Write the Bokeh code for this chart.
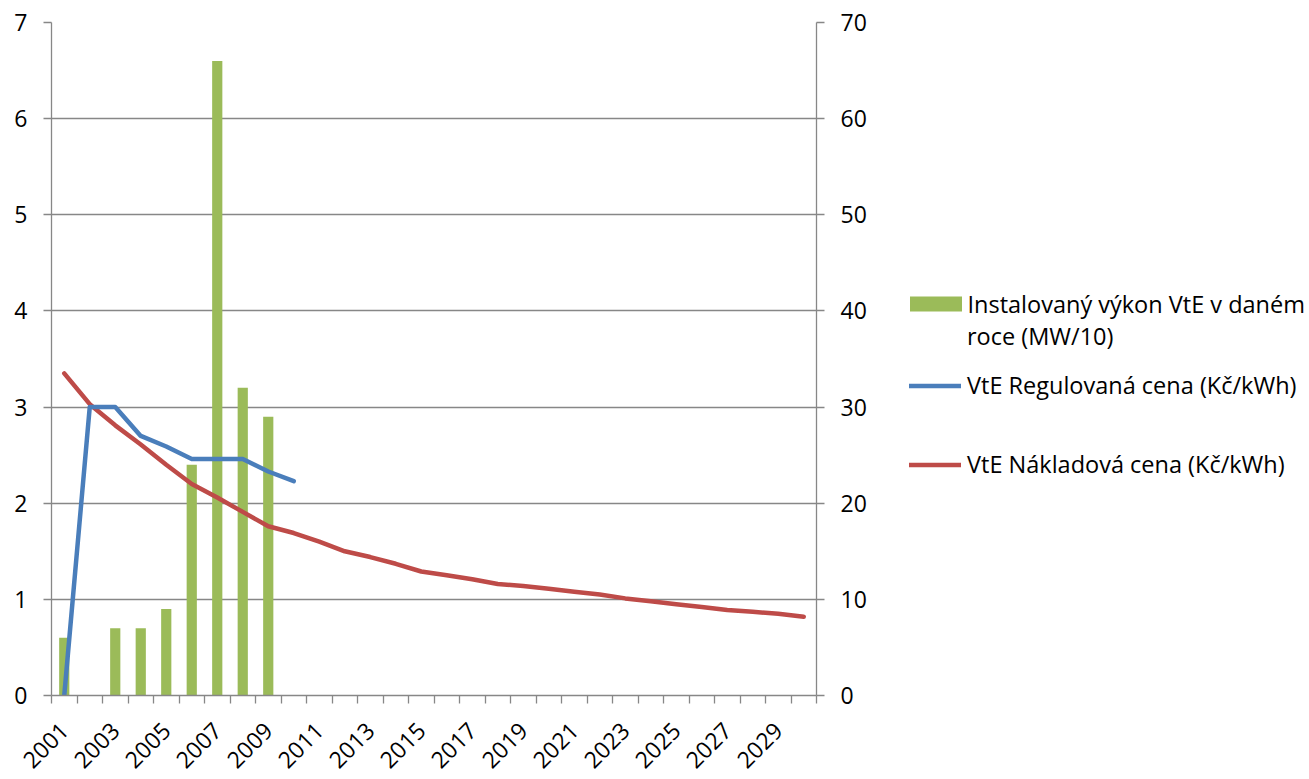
from math import pi
from bokeh.plotting import figure
from bokeh.layouts import row
from bokeh.models import Range1d, LinearAxis, FixedTicker, Legend, LegendItem
from bokeh.embed import file_html
from bokeh.resources import INLINE

# ---- data ----
years = list(range(2001, 2031))
bar_years = [2001, 2002, 2003, 2004, 2005, 2006, 2007, 2008, 2009]
installed_mw10 = [0.6, 0.0, 0.7, 0.7, 0.9, 2.4, 6.6, 3.2, 2.9]
reg_years = list(range(2001, 2011))
reg_price = [0.0, 3.0, 3.0, 2.70, 2.59, 2.46, 2.46, 2.46, 2.33, 2.23]
cost_price = [3.35, 3.03, 2.81, 2.61, 2.40, 2.20, 2.06, 1.91, 1.76, 1.69,
              1.60, 1.50, 1.44, 1.37, 1.29, 1.25, 1.21, 1.16, 1.14, 1.11,
              1.08, 1.05, 1.01, 0.98, 0.95, 0.92, 0.89, 0.87, 0.85, 0.82]
label_years = years[::2]
left_ticks = [0, 1, 2, 3, 4, 5, 6, 7]
right_ticks = [0, 10, 20, 30, 40, 50, 60, 70]
names = ["Instalovaný výkon VtE v daném",
         "roce (MW/10)",
         "VtE Regulovaná cena (Kč/kWh)",
         "VtE Nákladová cena (Kč/kWh)"]

FONT = "Open Sans"
FS = "23px"
LFS = "23.5px"
GRAY = "#878787"
GREEN = "#9BBB59"
BLUE = "#4A7EBB"
RED = "#BE4B48"

p = figure(width=880, height=779, output_backend="svg", toolbar_location=None,
           x_range=Range1d(years[0] - 0.5, years[-1] + 0.5),
           y_range=Range1d(left_ticks[0], left_ticks[-1]),
           min_border_left=51, min_border_right=64, min_border_top=22,
           min_border_bottom=84)
p.outline_line_color = None
p.background_fill_color = "white"
p.border_fill_color = "white"

p.extra_y_ranges = {"right": Range1d(right_ticks[0], right_ticks[-1])}

# x axis
xa = p.xaxis[0]
xa.ticker = FixedTicker(ticks=label_years,
                        minor_ticks=[y - 0.5 for y in years] + [years[-1] + 0.5])
xa.major_label_overrides = {y: str(y) for y in label_years}
xa.major_tick_line_color = None
xa.minor_tick_in = 0
xa.minor_tick_out = 8
xa.minor_tick_line_color = GRAY
xa.minor_tick_line_width = 1.3
xa.axis_line_color = GRAY
xa.axis_line_width = 1.3
xa.major_label_orientation = pi / 4
xa.major_label_standoff = 23
xa.major_label_text_font = FONT
xa.major_label_text_font_size = FS
xa.major_label_text_line_height = 0.3
xa.major_label_text_color = "black"

# left axis
ya = p.yaxis[0]
ya.ticker = FixedTicker(ticks=left_ticks)
ya.major_tick_in = 0
ya.major_tick_out = 8
ya.minor_tick_line_color = None
ya.major_tick_line_color = GRAY
ya.major_tick_line_width = 1.3
ya.axis_line_color = GRAY
ya.axis_line_width = 1.3
ya.major_label_standoff = 16
ya.major_label_text_font = FONT
ya.major_label_text_font_size = FS
ya.major_label_text_color = "black"

# right axis
ra = LinearAxis(y_range_name="right", ticker=FixedTicker(ticks=right_ticks))
ra.major_tick_in = 0
ra.major_tick_out = 8
ra.minor_tick_line_color = None
ra.major_tick_line_color = GRAY
ra.major_tick_line_width = 1.3
ra.axis_line_color = GRAY
ra.axis_line_width = 1.3
ra.major_label_standoff = 16
ra.major_label_text_font = FONT
ra.major_label_text_font_size = FS
ra.major_label_text_color = "black"
p.add_layout(ra, "right")

p.xgrid.grid_line_color = None
p.ygrid.ticker = FixedTicker(ticks=left_ticks)
p.ygrid.grid_line_color = GRAY
p.ygrid.grid_line_width = 1.3

# glyphs
r_bar = p.vbar(x=bar_years, top=installed_mw10, width=0.4, bottom=0,
               fill_color=GREEN, line_color=None)
r_cost = p.line(years, cost_price, line_color=RED, line_width=4.5,
                line_join="round", line_cap="round")
r_reg = p.line(reg_years, reg_price, line_color=BLUE, line_width=4.5,
               line_join="round", line_cap="round")

# legend panel (separate figure so the legend is not clipped)
q = figure(width=429, height=779, output_backend="svg", toolbar_location=None,
           x_axis_type=None, y_axis_type=None,
           x_range=Range1d(0, 1), y_range=Range1d(0, 1),
           min_border_left=0, min_border_right=0, min_border_top=0,
           min_border_bottom=0)
q.outline_line_color = None
q.xgrid.grid_line_color = None
q.ygrid.grid_line_color = None
# legend-key glyphs kept outside the visible range of this panel
l_bar = q.vbar(x=[5], top=[1], width=0.4, fill_color=GREEN, line_color=None)
l_blank = q.line(x=[5, 6], y=[0, 0], line_alpha=0)
l_reg = q.line(x=[5, 6], y=[0, 0], line_color=BLUE, line_width=4.5, line_cap="round")
l_cost = q.line(x=[5, 6], y=[0, 0], line_color=RED, line_width=4.5, line_cap="round")

def make_legend(label, rend, loc, gw=52, gh=15, standoff=6):
    lg = Legend(items=[LegendItem(label=label, renderers=[rend])], location=loc,
                glyph_width=gw, glyph_height=gh, label_standoff=standoff,
                padding=0, margin=0, spacing=0, border_line_color=None,
                background_fill_alpha=0, label_text_font=FONT,
                label_text_font_size=LFS, label_text_color="black",
                label_text_line_height=1.4)
    q.add_layout(lg)

make_legend(names[0], l_bar, (22.5, 375.5), gw=65, gh=19, standoff=0)
make_legend(names[1], l_blank, (29, 343))
make_legend(names[2], l_reg, (29, 294))
make_legend(names[3], l_cost, (29, 215))

open("out.html", "w").write(file_html(row(p, q), INLINE))
